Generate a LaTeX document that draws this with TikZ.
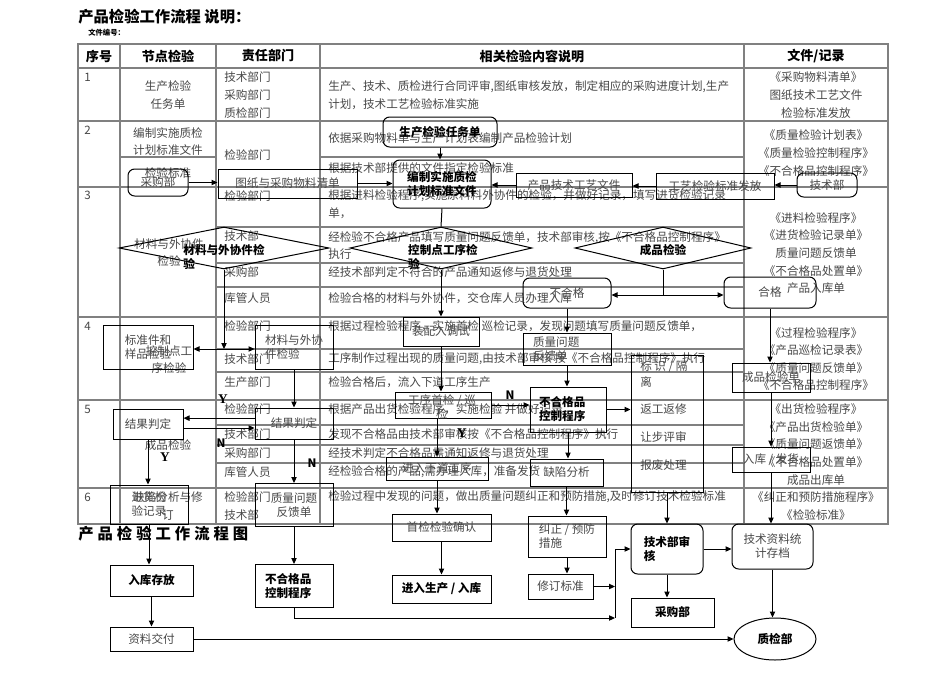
\documentclass[tikz,border=0pt]{standalone}
\usepackage{fontspec}
\setmainfont{Noto Sans CJK SC}
\newfontfamily\lserif{Liberation Serif}
\usetikzlibrary{shapes.geometric,arrows.meta}

\tikzset{
  txt/.style={text=black!72},
  lt/.style={txt, anchor=west, align=left},
  ct/.style={txt, align=center},
  ft/.style={font=\fontsize{8.7}{10.5}\selectfont, text=black!72},
  bt/.style={font=\fontsize{8.7}{10.5}\selectfont\bfseries},
  hd/.style={font=\fontsize{9.8}{12}\selectfont\bfseries},
  tline/.style={draw=black!50, line width=0.8pt},
  sz/.style 2 args={minimum width=#1*0.75pt, minimum height=#2*0.75pt},
  box/.style={draw, line width=0.75pt, rectangle},
  rbox/.style={box, rounded corners=5pt},
  dia/.style={draw, line width=0.75pt, diamond},
  ln/.style={line width=0.75pt},
  arr/.style={line width=0.75pt, -{Triangle[length=4.5pt,width=4pt]}},
  darr/.style={line width=0.75pt, {Triangle[length=4.5pt,width=4pt]}-{Triangle[length=4.5pt,width=4pt]}}
}

\begin{document}
\begin{tikzpicture}[x=0.75pt,y=-0.75pt,
  every node/.style={font=\fontsize{8.7}{13.2}\selectfont, inner sep=0pt}]
\useasboundingbox (0,0) rectangle (950,672);

% titles
\node[anchor=west, font=\fontsize{11.5}{12}\selectfont\bfseries] (ttl) at (78,17) {产品检验工作流程 说明：};
\node[anchor=west, font=\fontsize{5.5}{6}\selectfont\bfseries] (bh) at (88,33) {文件编号：};
\node[anchor=west, font=\fontsize{11.5}{12}\selectfont\bfseries] (ttl2) at (78,534)
  {产\hspace{3pt}品\hspace{3pt}检\hspace{3pt}验\hspace{3pt}工\hspace{3pt}作\hspace{3pt}流\hspace{3pt}程\hspace{3pt}图};

% table
\draw[tline] (78,44) rectangle (888,524);
\foreach \yy in {68,121,187,317,400,488} \draw[tline] (78,\yy) -- (888,\yy);
\foreach \xx in {120,216,320,744} \draw[tline] (\xx,44) -- (\xx,524);
\draw[tline] (120,157) -- (216,157);
\draw[tline] (320,157) -- (744,157);
\foreach \yy in {227,263,287,349,372,425,445,463} \draw[tline] (216,\yy) -- (744,\yy);

\node[hd] (h1) at (99,56) {序号};
\node[hd] (h2) at (168,56) {节点检验};
\node[hd] (h3) at (268,56) {责任部门};
\node[hd] (h4) at (532,56) {相关检验内容说明};
\node[hd] (h5) at (816,56) {文件/记录};

% row 1
\node[lt] (no1) at (84,77) {1};
\node[ct] (n1) at (168,95) {生产检验\\任务单};
\node[lt] (r1) at (224,95) {技术部门\\采购部门\\质检部门};
\node[lt] (c1) at (328,95) {生产、技术、质检进行合同评审,图纸审核发放，制定相应的采购进度计划,生产\\计划，技术工艺检验标准实施};
\node[ct] (f1) at (816,95) {《采购物料清单》\\图纸技术工艺文件\\检验标准发放};

% row 2
\node[lt] (no2) at (84,130) {2};
\node[ct] (n2a) at (168,141.5) {编制实施质检\\计划标准文件};
\node[ct] (n2b) at (168,173) {检验标准};
\node[lt] (r2) at (224,155) {检验部门};
\node[lt] (c2a) at (328,138) {依据采购物料单与生产计划表编制产品检验计划};
\node[lt] (c2b) at (328,168) {根据技术部提供的文件指定检验标准};
\node[ct] (f2) at (816,153) {《质量检验计划表》\\《质量检验控制程序》\\《不合格品控制程序》};

% row 3
\node[lt] (no3) at (84,195) {3};
\node[ct] (n3) at (169,252.5) {材料与外协件\\检验};
\node[lt] (r3a) at (224,196) {检验部门};
\node[lt] (r3b) at (224,236) {技术部};
\node[lt] (r3c) at (224,272) {采购部};
\node[lt] (r3d) at (224,298) {库管人员};
\node[lt] (c3a) at (328,204.5) {根据进料检验程序,实施原料料外协件的检验，并做好记录，填写进货检验记录\\单，};
\node[lt] (c3b) at (328,245.5) {经检验不合格产品填写质量问题反馈单，技术部审核,按《不合格品控制程序》\\执行};
\node[lt] (c3c) at (328,272) {经技术部判定不符合的产品通知返修与退货处理};
\node[lt] (c3d) at (328,298) {检验合格的材料与外协件，交仓库人员办理入库};
\node[ct] (f3) at (816,253) {《进料检验程序》\\《进货检验记录单》\\质量问题反馈单\\《不合格品处置单》\\产品入库单};

% row 4
\node[lt] (no4) at (84,326) {4};
\node[ct] (n4) at (169,359.5) {控制点工\\序检验};
\node[lt] (r4a) at (224,326) {检验部门};
\node[lt] (r4b) at (224,359) {技术部门};
\node[lt] (r4c) at (224,382) {生产部门};
\node[lt] (c4a) at (328,326) {根据过程检验程序，实施首检 巡检记录，发现问题填写质量问题反馈单，};
\node[lt] (c4b) at (328,359) {工序制作过程出现的质量问题,由技术部审核 按《不合格品控制程序》执行};
\node[lt] (c4c) at (328,382) {检验合格后，流入下道工序生产};
\node[ct] (f4) at (816,359) {《过程检验程序》\\《产品巡检记录表》\\《质量问题反馈单》\\《不合格品控制程序》};

% row 5
\node[lt] (no5) at (84,409) {5};
\node[ct] (n5) at (168,445) {成品检验};
\node[lt] (r5a) at (224,409) {检验部门};
\node[lt] (r5b) at (224,434) {技术部门};
\node[lt] (r5c) at (224,453) {采购部门};
\node[lt] (r5d) at (224,472) {库管人员};
\node[lt] (c5a) at (328,409) {根据产品出货检验程序，实施检验 并做好记录};
\node[lt] (c5b) at (328,434) {发现不合格品由技术部审核按《不合格品控制程序》执行};
\node[lt] (c5c) at (328,453) {经技术判定不合格品需通知返修与退货处理};
\node[lt] (c5d) at (328,472) {经检验合格的产品,需办理入库，准备发货};
\node[ct] (f5) at (816,444.5) {《出货检验程序》\\《产品出货检验单》\\《质量问题返馈单》\\《不合格品处置单》\\成品出库单};

% row 6
\node[lt] (no6) at (84,497) {6};
\node[ct] (n6) at (168,506) {缺陷分析与修\\订};
\node[lt] (r6) at (224,506) {检验部门\\技术部};
\node[lt] (c6) at (328,497) {检验过程中发现的问题，做出质量问题纠正和预防措施,及时修订技术检验标准};
\node[ct] (f6) at (816,506) {《纠正和预防措施程序》\\《检验标准》};

% flow chart
\node[rbox, sz={114}{30}, bt] (rw) at (440,132) {生产检验任务单};
\node[rbox, sz={98}{48}, bt, align=center] (bz) at (442,184) {编制实施质检\\计划标准文件};
\node[rbox, sz={60}{27}, ft] (cg) at (158,182.5) {采购部};
\node[box, sz={139}{29}, ft] (tz) at (287.5,183.5) {图纸与采购物料清单};
\node[box, sz={116}{24}, ft] (cp) at (574,185) {产品技术工艺文件};
\node[box, sz={118}{26}, ft] (gy) at (715,186) {工艺检验标准发放};
\node[rbox, sz={60}{24}, ft] (js) at (827,185) {技术部};

\node[dia, sz={210}{42}] (d1) at (224,248) {};
\node[dia, sz={182}{42}] (d2) at (441,248) {};
\node[dia, sz={176}{42}] (d3) at (663,248) {};
\node[bt, align=left] (t1) at (224,256.5) {材料与外协件检\\验};
\node[bt, align=left] (t2) at (443,256.5) {控制点工序检\\验};
\node[bt] (t3) at (663,250) {成品检验};

\node[rbox, sz={88}{30}, ft] (bhg) at (567,293) {不合格};
\node[rbox, sz={92}{31}, ft] (hg) at (770,292.5) {合格};
\coordinate (j1) at (663,295);
\node[box, sz={88}{32}, ft, text width=51pt, align=left] (zlw) at (567,349) {质量问题\\反馈单};
\node[box, sz={78}{29}, ft] (cpj) at (771,377.5) {成品检验单};
\node[box, sz={78}{25}, ft] (rkfh) at (771,459.5) {入库 / 发货};
\node[rbox, sz={81}{45}, ft, align=center] (zltj) at (772.5,546.5) {技术资料统\\计存档};
\node[rbox, sz={72}{50}, bt, align=left] (jssh) at (667,549) {技术部审\\核};
\node[box, sz={83}{29}, bt] (cgb) at (672.5,612.5) {采购部};
\node[draw, ellipse, line width=0.75pt, sz={82}{42}, bt] (zjb) at (775,639) {质检部};

\node[box, sz={72}{137}] (bsgl) at (667,423.5) {};
\node[ft, anchor=west] (bs1) at (640,367) {标 识 / 隔};
\node[ft, anchor=west] (bs2) at (640,382) {离};
\node[ft, anchor=west] (bs3) at (640,409) {返工返修};
\node[ft, anchor=west] (bs4) at (640,437) {让步评审};
\node[ft, anchor=west] (bs5) at (640,465) {报废处理};

\node[box, sz={76}{45}, bt, text width=43.5pt, align=left] (bhgcx) at (568,409.5) {不合格品\\控制程序};
\node[box, sz={73}{27}, ft] (qxfx) at (566.5,472.5) {缺陷分析};
\node[box, sz={78}{41}, ft, align=left] (jzyf) at (567,536.5) {纠正 / 预防\\措施};
\node[box, sz={65}{25}, ft] (xdbz) at (560.5,586.5) {修订标准};
\coordinate (m1) at (615,587);
\coordinate (m2) at (615,549);
\coordinate (m3) at (615,618);

\node[box, sz={76}{29}, ft] (zxts) at (441,331.5) {装配入调试};
\node[box, sz={96}{26}] (gxsj) at (443,405) {};
\node[ft, align=center] (gxt) at (442,407) {工序首检 / 巡\\检};
\node[box, sz={102}{23}, ft] (jrxd) at (437,468.5) {进入下道工序};
\node[box, sz={99}{27}, ft] (sjqr) at (441.5,527.5) {首检检验确认};
\node[box, sz={99}{28}, bt] (jrsc) at (441.5,589) {进入生产 / 入库};

\node[box, sz={90}{44}, ft, align=left] (bzj) at (148,347) {标准件和\\样品检验};
\node[box, sz={78}{44}, ft, align=left] (clwx) at (294,347) {材料与外协\\件检验};
\coordinate (k1) at (224,349);
\node[box, sz={70}{30}, ft] (jg1) at (148,424) {结果判定};
\node[box, sz={78}{31}, ft] (jg2) at (294,423.5) {结果判定};
\node[box, sz={78}{39}, ft, align=left] (jhjl) at (149,504.5) {进货检\\验记录};
\node[box, sz={78}{43}, ft, align=center] (zlw2) at (294,505) {质量问题\\反馈单};
\node[box, sz={78}{43}, bt, text width=43.5pt, align=left] (bhg2) at (294,586) {不合格品\\控制程序};
\node[box, sz={83}{31}, bt] (rkcf) at (151.5,580.5) {入库存放};
\node[box, sz={83}{24}, ft] (zljf) at (151.5,639) {资料交付};

\node[font=\lserif\fontsize{10}{10}\selectfont\bfseries] (ya) at (223,399) {Y};
\node[bt] (na) at (221,443) {N};
\node[font=\lserif\fontsize{10}{10}\selectfont\bfseries] (yb) at (165,457) {Y};
\node[bt] (nb) at (510,395) {N};
\node[font=\lserif\fontsize{10}{10}\selectfont\bfseries] (yc) at (462,433) {Y};
\node[bt] (nc) at (312,463) {N};

% connectors
\draw[arr] (rw.south) -- (rw.south |- bz.north);
\draw[arr] (cg.east) -- (cg.east -| tz.west);
\draw[arr] (tz.east) -- (tz.east -| bz.west);
\draw[arr] (cp.west) -- (cp.west -| bz.east);
\draw[arr] (gy.west) -- (gy.west -| cp.east);
\draw[arr] (js.west) -- (js.west -| gy.east);
\draw[ln] (bz.south) -- (d2.north);
\draw[ln] (d3.south) -- (j1);
\draw[arr] (j1) -- (j1 -| bhg.east);
\draw[arr] (j1) -- (j1 -| hg.west);
\draw[arr] (bhg.south) -- (bhg.south |- zlw.north);
\draw[arr] (hg.south) -- (hg.south |- cpj.north);
\draw[arr] (cpj.south) -- (cpj.south |- rkfh.north);
\draw[arr] (rkfh.south) -- (rkfh.south |- zltj.north);
\draw[arr] (zltj.south) -- (zltj.south |- zjb.north);
\draw[arr] (zlw.south) -- (zlw.south |- bhgcx.north);
\draw[arr] (bhgcx.east) -- (bhgcx.east -| bsgl.west);
\draw[arr] (bhgcx.south) -- (bhgcx.south |- qxfx.north);
\draw[arr] (qxfx.south) -- (qxfx.south |- jzyf.north);
\draw[arr] (jzyf.south) -- (jzyf.south |- xdbz.north);
\draw[arr] (xdbz.east) -- (xdbz.east -| m1);
\draw[ln] (m2) -- (m3);
\draw[arr] (m2) -- (m2 -| jssh.west);
\draw[arr] (bsgl.south) -- (bsgl.south |- jssh.north);
\draw[arr] (jssh.south) -- (jssh.south |- cgb.north);
\draw[arr] (jssh.east) -- (jssh.east -| zltj.west);
\draw[arr] (bhg2.south) |- (m3);
\draw[arr] (zljf.east) -- (zljf.east -| zjb.west);
\draw[arr] (rkcf.south) -- (rkcf.south |- zljf.north);
\draw[arr] (d2.south) -- (d2.south |- zxts.north);
\draw[arr] (zxts.south) -- (zxts.south |- gxsj.north);
\draw[arr] (gxsj.east) -- (gxsj.east -| bhgcx.west);
\draw[arr] (gxsj.south -| jrxd.north) -- (jrxd.north);
\draw[arr] (jrxd.south) -- (jrxd.south |- sjqr.north);
\draw[arr] (sjqr.south) -- (sjqr.south |- jrsc.north);
\draw[arr] (d1.south) -- (k1);
\draw[darr] (bzj.east |- k1) -- (clwx.west |- k1);
\draw[arr] (clwx.south) -- (clwx.south |- jg2.north);
\draw[arr] ([yshift=4pt]jg2.west) -- ([yshift=4pt]jg2.west -| jg1.east);
\draw[arr] ([yshift=-3pt]jg1.east) -- ([yshift=-3pt]jg1.east -| jg2.west);
\draw[arr] (jg1.south) -- (jg1.south |- jhjl.north);
\draw[arr] (jg2.south) -- (jg2.south |- zlw2.north);
\draw[arr] (zlw2.south) -- (zlw2.south |- bhg2.north);
\draw[arr] (jhjl.south) -- (jhjl.south |- rkcf.north);
\end{tikzpicture}
\end{document}
